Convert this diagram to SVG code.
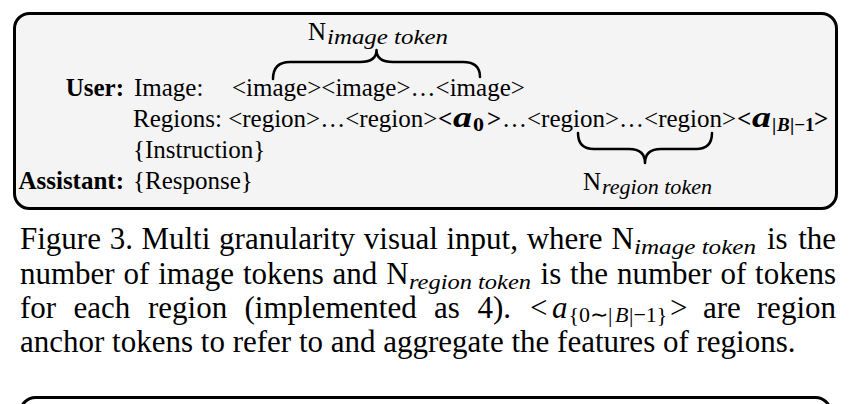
<svg xmlns="http://www.w3.org/2000/svg" width="851" height="404" viewBox="0 0 851 404">
<style>
text { font-family: "Liberation Serif", "Times New Roman", serif; fill: #000; }
.t { font-size: 25px; }
.b { font-weight: bold; }
.ba { font-weight: bold; font-style: italic; font-size: 29px; }
.asub { font-weight: bold; font-size: 19px; }
.asubi { font-weight: bold; font-style: italic; font-size: 19px; }
.msub { font-style: italic; font-size: 20px; }
.cap { font-size: 31px; }
.csub { font-style: italic; font-size: 22px; }
.csubn { font-size: 22px; }
.brace { fill: none; stroke: #000; stroke-width: 2.5; stroke-linecap: round; stroke-linejoin: round; }
.panel { fill: #f4f4f4; stroke: #000; stroke-width: 3; }
</style>
<rect width="851" height="404" fill="#fff"/>
<g id="panel">
  <rect class="panel" x="14.5" y="13.5" width="822" height="195" rx="15" ry="15"/>
</g>
<g id="user-row">
  <text class="t b" x="124" y="96" text-anchor="end">User:</text>
  <text class="t" x="134" y="96">Image:</text>
  <text class="t" x="232" y="96">&lt;image&gt;&lt;image&gt;…&lt;image&gt;</text>
</g>
<g id="regions-row">
  <text class="t" x="133" y="127">Regions: &lt;region&gt;…&lt;region&gt;</text>
  <text class="t b" x="438" y="127">&lt;</text>
  <text class="ba" x="453" y="127" textLength="19" lengthAdjust="spacingAndGlyphs">a</text>
  <text class="asub" x="473" y="131" textLength="11" lengthAdjust="spacingAndGlyphs">0</text>
  <text class="t b" x="487" y="127">&gt;</text>
  <text class="t" x="502" y="127">…&lt;region&gt;…&lt;region&gt;</text>
  <text class="t b" x="737" y="127">&lt;</text>
  <text class="ba" x="752" y="127" textLength="19" lengthAdjust="spacingAndGlyphs">a</text>
  <text class="asub" x="772" y="131">|</text>
  <text class="asubi" x="777" y="131">B</text>
  <text class="asub" x="790" y="131">|−1</text>
  <text class="t b" x="814" y="127">&gt;</text>
</g>
<g id="instruction-row">
  <text class="t" x="133" y="158">{Instruction}</text>
</g>
<g id="assistant-row">
  <text class="t b" x="124" y="189" text-anchor="end">Assistant:</text>
  <text class="t" x="133" y="189">{Response}</text>
</g>
<g id="label-image-token">
  <text class="t" x="308" y="40">N</text>
  <text class="msub" x="327" y="44" textLength="121" lengthAdjust="spacingAndGlyphs">image token</text>
</g>
<g id="label-region-token">
  <text class="t" x="583" y="190">N</text>
  <text class="msub" x="602" y="194" textLength="110" lengthAdjust="spacingAndGlyphs">region token</text>
</g>
<g id="connectors">
  <path class="brace" d="M273 79 Q273 62 290 62 L360 62 Q376.5 62 376.5 50 Q376.5 62 393 62 L463 62 Q480 62 480 77"/>
  <path class="brace" d="M578 133 Q578 149 594 149 L629 149 Q645 149 645 163 Q645 149 661 149 L696 149 Q712 149 712 133"/>
</g>
<g id="caption">
  <text class="cap" y="249"><tspan x="20">Figure</tspan><tspan x="109.7">3.</tspan><tspan x="141.4">Multi</tspan><tspan x="219.1">granularity</tspan><tspan x="363.8">visual</tspan><tspan x="446.5">input,</tspan><tspan x="526.7">where</tspan><tspan x="611.4">N</tspan></text>
  <text class="csub" x="634" y="254" textLength="122" lengthAdjust="spacingAndGlyphs">image token</text>
  <text class="cap" y="249"><tspan x="767">is</tspan><tspan x="836" text-anchor="end">the</tspan></text>
  <text class="cap" y="284"><tspan x="20">number</tspan><tspan x="123.6">of</tspan><tspan x="158.2">image</tspan><tspan x="242.9">tokens</tspan><tspan x="332.6">and</tspan><tspan x="386.3">N</tspan></text>
  <text class="csub" x="409" y="289" textLength="122" lengthAdjust="spacingAndGlyphs">region token</text>
  <text class="cap" y="284"><tspan x="540.6">is</tspan><tspan x="570.1">the</tspan><tspan x="616.9">number</tspan><tspan x="720.4">of</tspan><tspan x="836" text-anchor="end">tokens</tspan></text>
  <text class="cap" y="318"><tspan x="20">for</tspan><tspan x="73.5">each</tspan><tspan x="148">region</tspan><tspan x="244.5">(implemented</tspan><tspan x="434">as</tspan><tspan x="477.5">4).</tspan><tspan x="530">&lt;</tspan><tspan x="552" font-style="italic">a</tspan></text>
  <text class="csubn" x="568.5" y="322">{0∼|</text>
  <text class="csub" x="615" y="322">B</text>
  <text class="csubn" x="629" y="322">|−1}</text>
  <text class="cap" y="318"><tspan x="670">&gt;</tspan><tspan x="703">are</tspan><tspan x="836" text-anchor="end">region</tspan></text>
  <text class="cap" x="20" y="352">anchor tokens to refer to and aggregate the features of regions.</text>
</g>
<g id="next-panel">
  <rect x="20.5" y="397.5" width="810" height="40" rx="15" ry="15" fill="none" stroke="#000" stroke-width="3"/>
</g>
</svg>
